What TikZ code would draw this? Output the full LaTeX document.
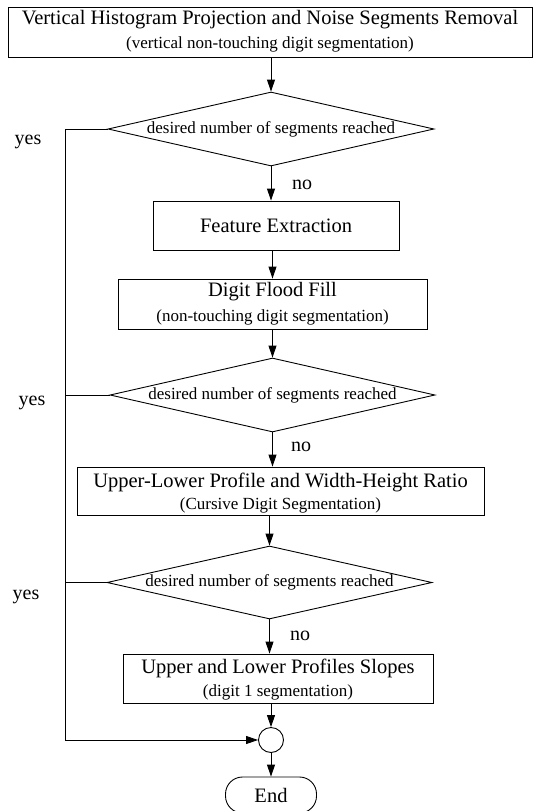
\documentclass[tikz,border=0pt]{standalone}
\usepackage{fontspec}
\setmainfont{Liberation Serif}
\usetikzlibrary{arrows.meta,shapes.geometric}
\newcommand{\ttlsize}{\fontsize{20.5pt}{24pt}\selectfont}
\newcommand{\subsize}{\fontsize{17pt}{20pt}\selectfont}
\newcommand{\lblsize}{\fontsize{20pt}{24pt}\selectfont}
\begin{document}
\begin{tikzpicture}[x=1pt,y=-1pt,
  line width=0.9pt,
  procbox/.style={draw, rectangle, inner sep=0pt},
  decision/.style={draw, diamond, aspect=4.4, inner sep=0pt, font=\subsize},
  ttl/.style={font=\ttlsize, inner sep=0pt},
  subt/.style={font=\subsize, inner sep=0pt},
  lbl/.style={font=\lblsize, inner sep=0pt},
  arr/.style={-{Triangle[length=12pt,width=8pt]}}]
\useasboundingbox (0,0) rectangle (537,811);

% process boxes
\node[procbox, minimum width=524pt, minimum height=50pt] (b1) at (270,32) {};
\node[ttl] (b1t) at (270,20) {Vertical Histogram Projection and Noise Segments Removal};
\node[subt] (b1s) at (270,44) {(vertical non-touching digit segmentation)};

\node[decision, minimum width=326pt, minimum height=74pt] (d1) at (271,129) {desired number of segments reached};

\node[procbox, minimum width=246pt, minimum height=49pt, font=\ttlsize] (fe) at (276,225.5) {Feature Extraction};

\node[procbox, minimum width=309pt, minimum height=50pt] (b2) at (272.5,304) {};
\node[ttl] (b2t) at (272.5,292) {Digit Flood Fill};
\node[subt] (b2s) at (272.5,317) {(non-touching digit segmentation)};

\node[decision, minimum width=325pt, minimum height=74pt] (d2) at (272.5,395) {desired number of segments reached};

\node[procbox, minimum width=407pt, minimum height=48pt] (b3) at (280.5,491) {};
\node[ttl] (b3t) at (280.5,482) {Upper-Lower Profile and Width-Height Ratio};
\node[subt] (b3s) at (280.5,505) {(Cursive Digit Segmentation)};

\node[decision, minimum width=325pt, minimum height=73pt] (d3) at (269.5,582.5) {desired number of segments reached};

\node[procbox, minimum width=310pt, minimum height=49pt] (b4) at (278,678.5) {};
\node[ttl] (b4t) at (278,668) {Upper and Lower Profiles Slopes};
\node[subt] (b4s) at (278,692) {(digit 1 segmentation)};

\node[draw, circle, minimum size=25pt, inner sep=0pt] (cir) at (271,740) {};
\node[draw, rectangle, rounded corners=17pt, minimum width=91pt, minimum height=36pt, font=\ttlsize] (end) at (271,795) {End};

% labels
\node[lbl] (y1) at (28,142) {yes};
\node[lbl] (y2) at (32,403) {yes};
\node[lbl] (y3) at (26,597) {yes};
\node[lbl] (n1) at (302,185) {no};
\node[lbl] (n2) at (301,447) {no};
\node[lbl] (n3) at (300,636) {no};

% left return line
\coordinate (L1) at (65,129);

% connectors
\draw[arr] (b1.south -| d1.north) -- (d1.north);
\draw[arr] (d1.south) -- (d1.south |- fe.north);
\draw[arr] (fe.south -| b2.north) -- (b2.north);
\draw[arr] (b2.south -| d2.north) -- (d2.north);
\draw[arr] (d2.south) -- (d2.south |- b3.north);
\draw[arr] (b3.south -| d3.north) -- (d3.north);
\draw[arr] (d3.south) -- (d3.south |- b4.north);
\draw[arr] (b4.south -| cir.north) -- (cir.north);
\draw[arr] (cir.south) -- (end.north);

\draw[arr] (d1.west) -- (L1) -- (L1 |- cir.west) -- (cir.west);
\draw (d2.west) -- (L1 |- d2.west);
\draw (d3.west) -- (L1 |- d3.west);
\end{tikzpicture}
\end{document}
